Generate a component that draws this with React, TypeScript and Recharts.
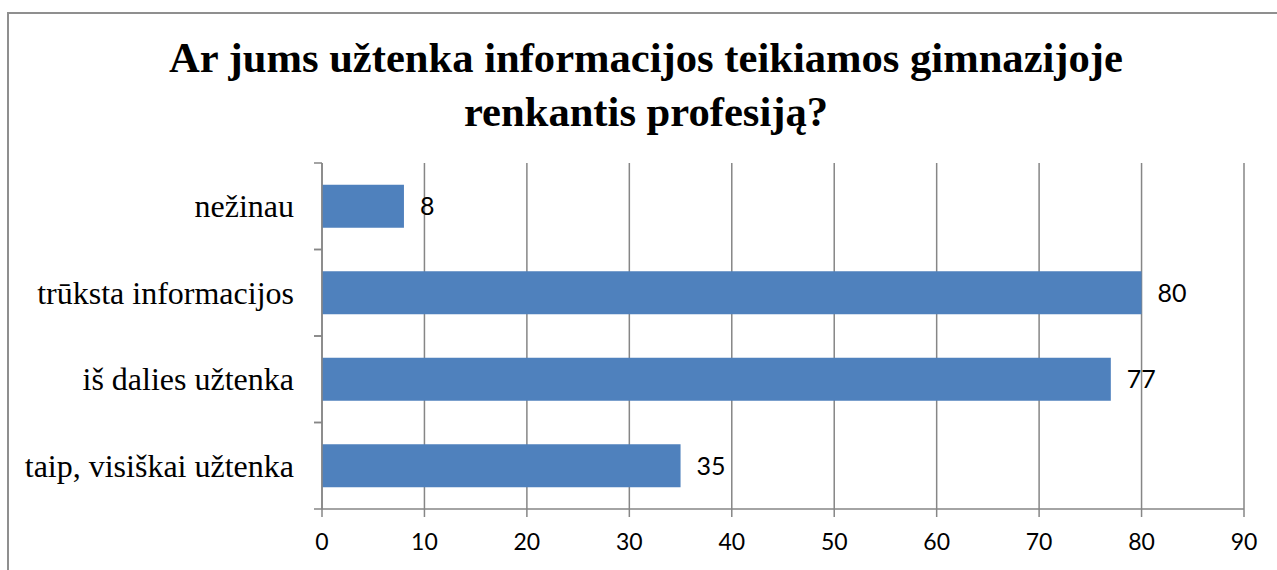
import { Bar, BarChart, CartesianGrid, LabelList, XAxis, YAxis } from "recharts";

// top to bottom, as drawn
const categories = ["nežinau", "trūksta informacijos", "iš dalies užtenka", "taip, visiškai užtenka"];
const answers = [8, 80, 77, 35];
const xTicks = [0, 10, 20, 30, 40, 50, 60, 70, 80, 90];
const titleLines = ["Ar jums užtenka informacijos teikiamos gimnazijoje", "renkantis profesiją?"];

const data = categories.map((name, i) => ({ name, value: answers[i] }));

const W = 1277;
const H = 570;
const TOP = 163;
const BOTTOM = 61;
const AXIS_W = 322;
const GRAY = "#868686";
const band = (H - TOP - BOTTOM) / categories.length;

function CategoryTick(props: any) {
  const { x, y, payload } = props;
  const ax = AXIS_W;
  return (
    <g>
      <line x1={ax - 8} x2={ax} y1={y - band / 2} y2={y - band / 2} stroke={GRAY} strokeWidth={1.5} />
      <line x1={ax - 8} x2={ax} y1={y + band / 2} y2={y + band / 2} stroke={GRAY} strokeWidth={1.5} />
      <text x={x - 20} y={y} textAnchor="end" dominantBaseline="central" fontFamily="'Liberation Serif', 'Times New Roman', serif" fontSize={32} fill="#000">
        {payload.value}
      </text>
    </g>
  );
}

export default function App() {
  return (
    <div style={{ position: "absolute", left: 0, top: 0, width: W, height: H, background: "#fff", overflow: "hidden" }}>
      <div style={{ position: "absolute", left: 7, top: 12, width: W + 20, height: H + 20, borderLeft: "2px solid #8f8f8f", borderTop: "2px solid #8f8f8f" }} />
      <svg width={W} height={H} style={{ position: "absolute", left: 0, top: 0 }}>
        {titleLines.map((t, i) => (
          <text key={i} x={646} y={72 + i * 54} textAnchor="middle" fontFamily="'Liberation Serif', 'Times New Roman', serif" fontWeight="bold" fontSize={42.6} fill="#000">
            {t}
          </text>
        ))}
      </svg>
      <div style={{ position: "absolute", left: 0, top: 0 }}>
        <BarChart width={W} height={H} data={data} layout="vertical" margin={{ top: TOP, right: 33, left: 0, bottom: 0 }} barCategoryGap="25%">
          <CartesianGrid horizontal={false} stroke={GRAY} strokeWidth={1.5} />
          <XAxis
            type="number"
            domain={[0, 90]}
            ticks={xTicks}
            interval={0}
            height={BOTTOM}
            axisLine={{ stroke: GRAY, strokeWidth: 1.5 }}
            tickLine={{ stroke: GRAY, strokeWidth: 1.5 }}
            tickSize={8}
            tickMargin={17}
            tick={{ fill: "#000", fontSize: 23, fontFamily: "Lato, 'Open Sans', sans-serif" }}
          />
          <YAxis
            type="category"
            dataKey="name"
            width={AXIS_W}
            axisLine={{ stroke: GRAY, strokeWidth: 1.5 }}
            tickLine={false}
            tick={<CategoryTick />}
            interval={0}
          />
          <Bar dataKey="value" fill="#4F81BD" isAnimationActive={false}>
            <LabelList dataKey="value" position="right" offset={16} fill="#000" fontSize={25} fontFamily="Lato, 'Open Sans', sans-serif" />
          </Bar>
        </BarChart>
      </div>
    </div>
  );
}
